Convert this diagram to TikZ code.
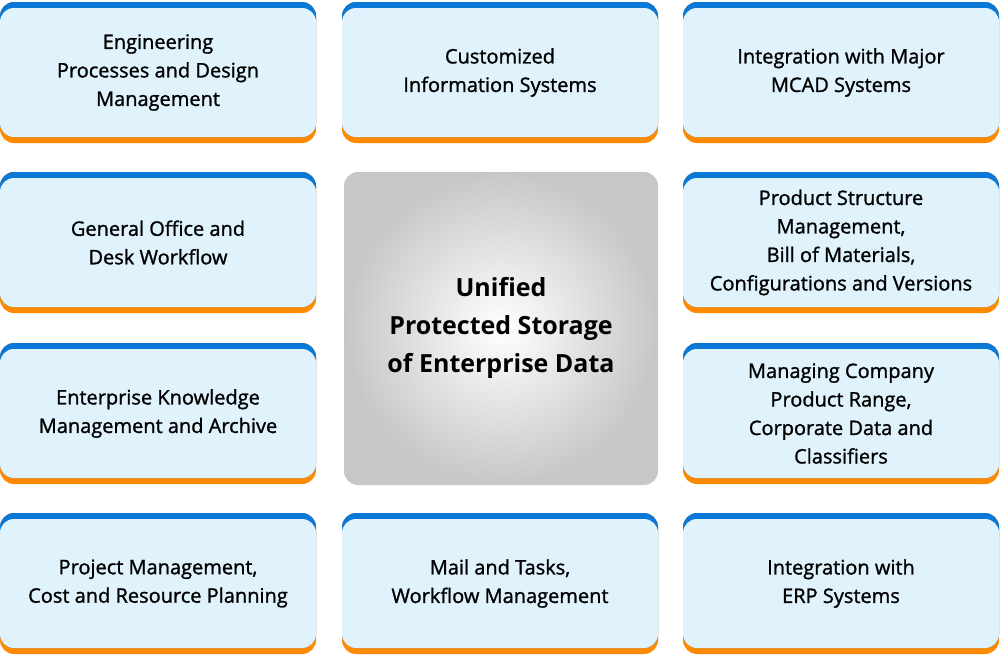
\documentclass[tikz,border=0pt]{standalone}
\usepackage{fontspec}
\setmainfont{Open Sans}[UprightFeatures={FakeBold=1.2}]
\definecolor{bl}{HTML}{0A78D7}
\definecolor{or}{HTML}{FF8A00}
\definecolor{lf}{HTML}{E0F3FC}
\begin{document}
\begin{tikzpicture}[x=1pt,y=-1pt,
  txt/.style={align=center,font=\fontsize{20}{28.5}\selectfont,text=black}]
\useasboundingbox (0,0) rectangle (1000,656);
\newcommand\mybox[5]{%
  \fill[or,rounded corners=14pt] (#1,#2) rectangle (#3,#4);
  \fill[bl,rounded corners=14pt] (#1,#2) rectangle (#3,#4-6);
  \fill[lf,rounded corners=14pt] (#1,#2+6) rectangle (#3,#4-6);
  \node[txt] (#5) at ({(#1+#3)/2},{(#2+#4)/2}) {};}
\mybox{0}{2}{316}{143}{a}
\mybox{342}{2}{658}{143}{b}
\mybox{683}{2}{999}{143}{c}
\mybox{0}{172}{316}{313}{d}
\mybox{683}{172}{999}{313}{e}
\mybox{0}{343}{316}{484}{f}
\mybox{683}{343}{999}{484}{g}
\mybox{0}{513}{316}{654}{h}
\mybox{342}{513}{658}{654}{i}
\mybox{683}{513}{999}{654}{j}
\node[txt] at (a) {Engineering\\Processes and Design\\Management};
\node[txt] at (b) {Customized\\Information Systems};
\node[txt] at (c) {Integration with Major\\MCAD Systems};
\node[txt] at (d) {General Office and\\Desk Workflow};
\node[txt] at (e) {Product Structure\\Management,\\Bill of Materials,\\Configurations and Versions};
\node[txt] at (f) {Enterprise Knowledge\\Management and Archive};
\node[txt] at (g) {Managing Company\\Product Range,\\Corporate Data and\\Classifiers};
\node[txt] at (h) {Project Management,\\Cost and Resource Planning};
\node[txt] at (i) {Mail and Tasks,\\Workflow Management};
\node[txt] at (j) {Integration with\\ERP Systems};
\shade[inner color=white,outer color=black!22,rounded corners=14pt] (344,172) rectangle (658,485);
\node[align=center,font=\bfseries\fontsize{25}{38}\selectfont] (m) at (501,328) {Unified\\Protected Storage\\of Enterprise Data};
\end{tikzpicture}
\end{document}
